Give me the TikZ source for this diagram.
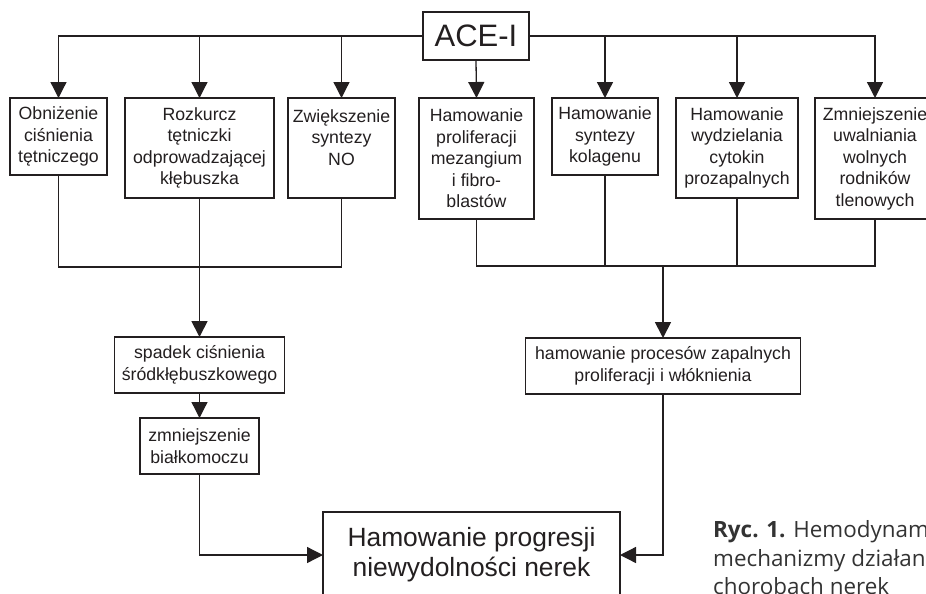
\documentclass[tikz,border=0pt]{standalone}
\usepackage{fontspec}
\setmainfont{Liberation Sans}
\newfontfamily\captionfont{Open Sans}
\usetikzlibrary{arrows.meta,positioning}
\definecolor{ink}{HTML}{231F20}
\definecolor{capgray}{HTML}{333333}

\begin{document}
\begin{tikzpicture}[
    x=1pt, y=-1pt,
    box/.style={draw=ink, text=ink, fill=white, rectangle, line width=1.2pt, outer sep=0pt, align=center, inner sep=2pt, font=\fontsize{17.7}{21.5}\selectfont},
    effect/.style={box, anchor=north west},
    result/.style={box, minimum height=56pt},
    arrow/.style={draw=ink, line width=1.3pt, -{Triangle[length=16pt,width=16pt]}},
    link/.style={draw=ink, line width=1.3pt}
]
\useasboundingbox (0,0) rectangle (926,594);
\clip (0,0) rectangle (926,594);

% Inhibitor
\node[box, minimum width=106pt, minimum height=48pt, font=\fontsize{31}{36}\selectfont] (ace) at (476,36) {ACE-I};

% Direct effects
\node[effect, minimum width=97pt, minimum height=77pt] (obn) at (10,98) {Obniżenie\\ciśnienia\\tętniczego};
\node[effect, right=18pt of obn.north east, anchor=north west, minimum width=149pt, minimum height=100pt] (rozk) {Rozkurcz\\tętniczki\\odprowadzającej\\kłębuszka};
\node[effect, right=14pt of rozk.north east, anchor=north west, minimum width=107pt, minimum height=100pt] (no) {Zwiększenie\\syntezy\\NO\\\mbox{}};
\node[effect, right=24pt of no.north east, anchor=north west, minimum width=115pt, minimum height=121pt] (prol) {Hamowanie\\proliferacji\\mezangium\\i fibro-\\blastów};
\node[effect, right=18pt of prol.north east, anchor=north west, minimum width=106pt, minimum height=77pt] (kol) {Hamowanie\\syntezy\\kolagenu};
\node[effect, right=18pt of kol.north east, anchor=north west, minimum width=122pt, minimum height=100pt] (cyt) {Hamowanie\\wydzielania\\cytokin\\prozapalnych};
\node[effect, right=17pt of cyt.north east, anchor=north west, minimum width=120pt, minimum height=121pt] (rodn) {Zmniejszenie\\uwalniania\\wolnych\\rodników\\tlenowych};

% Hemodynamic branch
\node[result, below=139pt of rozk.south, minimum width=170pt] (spadek) {spadek ciśnienia\\śródkłębuszkowego};
\node[result, below=25pt of spadek, minimum width=119pt] (bialk) {zmniejszenie\\białkomoczu};

% Non-hemodynamic branch
\coordinate (jr) at (663,266);
\node[result, below=72pt of jr, minimum width=275pt] (zapal) {hamowanie procesów zapalnych\\proliferacji i włóknienia};

% Final effect
\node[box, anchor=north, minimum width=297pt, minimum height=86pt, font=\fontsize{26.4}{30}\selectfont] (nerki) at (471.5,512) {Hamowanie progresji\\niewydolności nerek};

% Caption (base = last line)
\node[anchor=base west, align=left, inner sep=0pt, text=capgray, font=\captionfont\fontsize{22.4}{28.5}\selectfont] (caption) at (713,594.5) {\textbf{Ryc. 1.} Hemodynamiczne\\mechanizmy działania\\chorobach nerek};

% Arrows from ACE-I
\draw[arrow] (ace.west) -| (obn.north);
\draw[arrow] (rozk.north |- ace) -- (rozk.north);
\draw[arrow] (no.north |- ace) -- (no.north);
\draw[arrow] (ace.south) -- (prol.north);
\draw[arrow] (ace.east) -| (rodn.north);
\draw[arrow] (kol.north |- ace) -- (kol.north);
\draw[arrow] (cyt.north |- ace) -- (cyt.north);

% Left junction
\coordinate[below=69pt of rozk.south] (jl);
\draw[link] (obn.south) |- (jl) -| (no.south);
\draw[arrow, line width=1.8pt] (rozk.south) -- (spadek.north);
\draw[arrow] (spadek) -- (bialk);
\draw[arrow] (bialk.south) |- (nerki.west);

% Right junction
\draw[link] (prol.south) |- (jr) -| (rodn.south);
\draw[link] (kol.south) -- (kol.south |- jr);
\draw[link] (cyt.south) -- (cyt.south |- jr);
\draw[arrow, line width=1.8pt] (jr) -- (zapal.north);
\draw[arrow] (zapal.south) |- (nerki.east);
\end{tikzpicture}
\end{document}
